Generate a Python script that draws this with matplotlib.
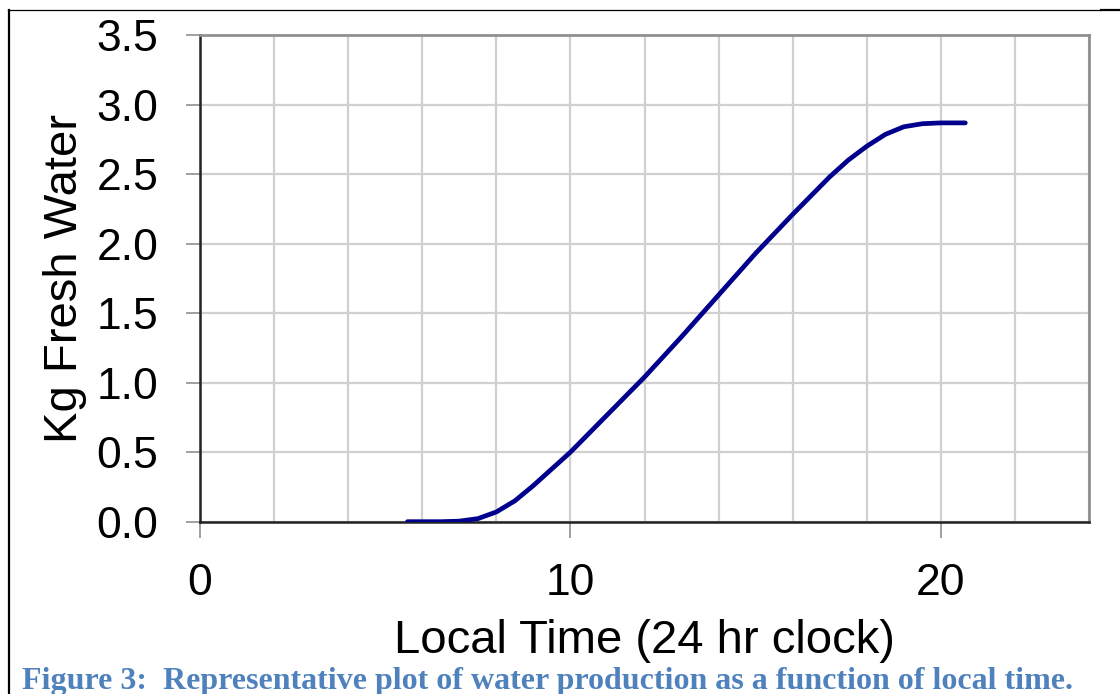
import numpy as np
import matplotlib
matplotlib.use("Agg")
import matplotlib.pyplot as plt
from matplotlib.lines import Line2D
from matplotlib.ticker import MultipleLocator

# values
hours = [5.6, 6.5, 7.0, 7.5, 8.0, 8.5, 9.0, 9.5, 10.0, 10.5, 11.0, 12.0,
         13.0, 14.0, 15.0, 16.0, 17.0, 17.5, 18.0, 18.5, 19.0, 19.5, 20.0,
         20.66]
water_kg = [0.0, 0.0, 0.004, 0.022, 0.07, 0.15, 0.26, 0.38, 0.50, 0.635,
            0.77, 1.04, 1.33, 1.63, 1.93, 2.21, 2.48, 2.60, 2.70, 2.785,
            2.84, 2.862, 2.868, 2.868]

x_major = [0, 10, 20]
y_ticks = [0.0, 0.5, 1.0, 1.5, 2.0, 2.5, 3.0, 3.5]

caption = ("Figure 3:  Representative plot of water production as a "
           "function of local time.")

W, H = 1120, 694
plt.rcParams["font.family"] = ["Liberation Sans", "DejaVu Sans"]

fig = plt.figure(figsize=(W / 100, H / 100), dpi=100)
ax = fig.add_axes([200 / W, 1 - 521.7 / H, 889 / W, 486.7 / H])

ax.plot(hours, water_kg, color="#00008c", lw=3.4, solid_capstyle="round",
        solid_joinstyle="round", zorder=3)

ax.set_xlim(0, 24)
ax.set_ylim(0, 3.5)
ax.set_xticks(x_major)
ax.xaxis.set_minor_locator(MultipleLocator(2))
ax.set_yticks(y_ticks)
ax.set_yticklabels([f"{v:.1f}" for v in y_ticks])

ax.grid(which="both", color="#d0d0d0", lw=1.6, zorder=0)
ax.set_axisbelow(True)

ax.tick_params(axis="y", which="major", length=10, width=1.4,
               color="#a0a0a0", labelsize=32, pad=20)
ax.tick_params(axis="x", which="major", length=11.5, width=1.4,
               color="#a0a0a0", labelsize=32, pad=18)
ax.tick_params(axis="x", which="minor", length=0)

for side in ("left", "bottom"):
    ax.spines[side].set_color("#222222")
    ax.spines[side].set_linewidth(1.8)
for side in ("top", "right"):
    ax.spines[side].set_color("#909090")
    ax.spines[side].set_linewidth(2.0)

ax.set_xlabel("Local Time (24 hr clock)", fontsize=34, va="baseline")
ax.xaxis.set_label_coords(0.5, (521.7 - 653) / 486.7)
ax.set_ylabel("Kg Fresh Water", fontsize=34, va="baseline",
              rotation_mode="anchor")
ax.yaxis.set_label_coords((77 - 200) / 889, 0.5)

# caption below the chart
fig.text(22 / W, 1 - 689 / H, caption, fontsize=23, fontweight="bold",
         family=["Liberation Serif", "DejaVu Serif"], color="#4f81bd",
         va="baseline", ha="left")

# page frame around the figure
fig.add_artist(Line2D([8.5 / W, 8.5 / W], [0, 1 - 10 / H],
                      transform=fig.transFigure, color="black", lw=1.6))
fig.add_artist(Line2D([8 / W, 1101 / W], [1 - 9.5 / H, 1 - 9.5 / H],
                      transform=fig.transFigure, color="black", lw=0.9))
fig.add_artist(Line2D([1101 / W, 1], [1 - 10.3 / H, 1 - 10.3 / H],
                      transform=fig.transFigure, color="black", lw=1.6))

fig.savefig("out.png", dpi=100)
